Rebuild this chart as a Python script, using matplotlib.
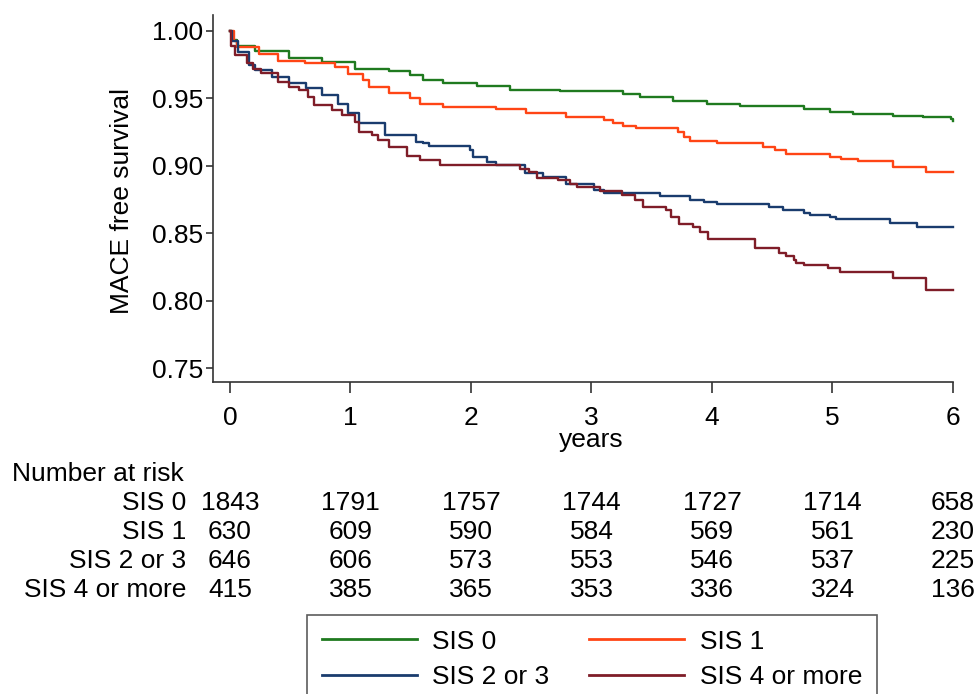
import numpy as np
import matplotlib
matplotlib.use("Agg")
import matplotlib.pyplot as plt
from matplotlib.transforms import blended_transform_factory

plt.rcParams['font.family'] = ['Liberation Sans', 'DejaVu Sans']
plt.rcParams['font.size'] = 19

# Kaplan-Meier step data (time in years, survival)
t_sis0 = [0, 0.02, 0.06, 0.21, 0.49, 0.76, 1.04, 1.32, 1.49, 1.60, 1.77, 2.05, 2.32,
          2.74, 3.26, 3.40, 3.68, 3.96, 4.23, 4.76, 4.98, 5.17, 5.50, 5.75, 5.98, 6.0]
s_sis0 = [1.0, 0.993, 0.989, 0.985, 0.980, 0.977, 0.972, 0.970, 0.967, 0.9635, 0.961, 0.959, 0.956,
          0.955, 0.953, 0.951, 0.948, 0.9455, 0.944, 0.942, 0.940, 0.938, 0.937, 0.936, 0.9345, 0.933]

t_sis1 = [0, 0.03, 0.06, 0.24, 0.40, 0.62, 0.87, 0.98, 1.10, 1.15, 1.32, 1.49, 1.58, 1.77,
          2.21, 2.46, 2.79, 3.10, 3.18, 3.26, 3.37, 3.72, 3.77, 3.82, 4.04, 4.42, 4.52, 4.61,
          4.98, 5.07, 5.21, 5.50, 5.78, 6.0]
s_sis1 = [1.0, 0.992, 0.988, 0.983, 0.9776, 0.976, 0.9733, 0.968, 0.9635, 0.958, 0.9536, 0.950, 0.946, 0.9437,
          0.9418, 0.939, 0.9358, 0.934, 0.932, 0.9294, 0.9277, 0.925, 0.921, 0.9183, 0.9166, 0.914, 0.9115, 0.9087,
          0.9067, 0.905, 0.9032, 0.899, 0.8956, 0.8956]

t_sis23 = [0, 0.02, 0.07, 0.155, 0.21, 0.35, 0.49, 0.63, 0.76, 0.90, 0.98, 1.07, 1.29, 1.54,
           1.60, 1.65, 1.99, 2.02, 2.13, 2.21, 2.45, 2.60, 2.79, 3.02, 3.10, 3.57, 3.82, 3.93, 4.04,
           4.47, 4.59, 4.76, 4.81, 4.98, 5.03, 5.48, 5.70, 6.0]
s_sis23 = [1.0, 0.992, 0.9844, 0.9746, 0.971, 0.966, 0.961, 0.9573, 0.9524, 0.946, 0.9388, 0.9314, 0.9227, 0.9178,
           0.9166, 0.915, 0.9116, 0.9067, 0.903, 0.9005, 0.8944, 0.8914, 0.8864, 0.882, 0.880, 0.8776, 0.875, 0.8733, 0.8716,
           0.8696, 0.8672, 0.8652, 0.8635, 0.8618, 0.8603, 0.8578, 0.8548, 0.8548]

t_sis4 = [0, 0.01, 0.04, 0.14, 0.19, 0.26, 0.40, 0.49, 0.57, 0.65, 0.70, 0.85, 0.93, 1.04,
          1.07, 1.18, 1.23, 1.32, 1.47, 1.58, 1.74, 2.41, 2.48, 2.55, 2.72, 2.82, 2.88, 3.07,
          3.25, 3.36, 3.43, 3.62, 3.66, 3.73, 3.84, 3.90, 3.97, 4.36, 4.56, 4.61, 4.68, 4.70,
          4.76, 4.96, 5.06, 5.50, 5.78, 6.0]
s_sis4 = [1.0, 0.989, 0.982, 0.976, 0.972, 0.9684, 0.9622, 0.9585, 0.956, 0.951, 0.945, 0.9413, 0.9376, 0.9326,
          0.925, 0.9227, 0.919, 0.914, 0.907, 0.9042, 0.9005, 0.898, 0.8956, 0.8907, 0.8894, 0.8864, 0.884, 0.881,
          0.8783, 0.8746, 0.8696, 0.867, 0.862, 0.8568, 0.8548, 0.851, 0.846, 0.8388, 0.8356, 0.833, 0.830, 0.828,
          0.8265, 0.824, 0.8215, 0.8173, 0.808, 0.808]

groups = ["SIS 0", "SIS 1", "SIS 2 or 3", "SIS 4 or more"]
colors = ["#1f7a1f", "#ff4515", "#1a3c6e", "#7f1d28"]

risk_times = [0, 1, 2, 3, 4, 5, 6]
risk_sis0 = [1843, 1791, 1757, 1744, 1727, 1714, 658]
risk_sis1 = [630, 609, 590, 584, 569, 561, 230]
risk_sis23 = [646, 606, 573, 553, 546, 537, 225]
risk_sis4 = [415, 385, 365, 353, 336, 324, 136]

W, H = 976, 694
fig = plt.figure(figsize=(W / 100, H / 100), dpi=100)
ax = fig.add_axes([213 / W, 1 - 382 / H, (953 - 213) / W, (382 - 15) / H])

series = [(t_sis0, s_sis0), (t_sis1, s_sis1), (t_sis23, s_sis23), (t_sis4, s_sis4)]
handles = []
for (t, s), c, g in zip(series, colors, groups):
    h, = ax.step(t, s, where='post', color=c, lw=1.7, label=g, clip_on=False)
    handles.append(h)

ax.set_xlim(-0.141, 6.0)
ax.set_ylim(0.740, 1.0116)
ax.set_xticks(risk_times)
yt = [0.75, 0.80, 0.85, 0.90, 0.95, 1.00]
ax.set_yticks(yt)
ax.set_yticklabels(["%.2f" % v for v in yt])
for sp in ["top", "right"]:
    ax.spines[sp].set_visible(False)
for sp in ["left", "bottom"]:
    ax.spines[sp].set_color("#333333")
    ax.spines[sp].set_linewidth(1.2)
ax.tick_params(axis='x', length=8, width=1.2, color="#333333", pad=9, labelsize=19)
ax.tick_params(axis='y', length=5, width=1.2, color="#333333", pad=2, labelsize=19)

fig.text(122 / W, 1 - 201 / H, "MACE free survival", rotation=90, ha='center', va='center', fontsize=19)
fig.text(591 / W, 1 - 440 / H, "years", ha='center', va='center', fontsize=19)

# number at risk table
tr = blended_transform_factory(ax.transData, fig.transFigure)
fig.text(12 / W, 1 - 474 / H, "Number at risk", ha='left', va='center', fontsize=19)
rows = [risk_sis0, risk_sis1, risk_sis23, risk_sis4]
row_y = [503, 532, 561, 590]
for g, vals, py in zip(groups, rows, row_y):
    fig.text(186 / W, 1 - py / H, g, ha='right', va='center', fontsize=19)
    for xt, v in zip(risk_times, vals):
        ax.text(xt, 1 - py / H, str(v), transform=tr, ha='center', va='center', fontsize=19)

# legend filled column-wise, so order handles to get SIS 0 / SIS 1 on the first row
order = [0, 2, 1, 3]
leg = fig.legend(handles=[handles[i] for i in order],
                 labels=[groups[i] for i in order], loc='upper left',
                 bbox_to_anchor=(307 / W, 1 - 615 / H),
                 ncol=2, fontsize=19, frameon=True, fancybox=False, handlelength=3.6,
                 handletextpad=0.6, columnspacing=1.5, labelspacing=0.45, borderpad=0.55,
                 borderaxespad=0)
leg.get_frame().set_edgecolor("#333333")
leg.get_frame().set_linewidth(1.2)
for lh in leg.get_lines():
    lh.set_linewidth(2)

fig.savefig("out.png", dpi=100)
